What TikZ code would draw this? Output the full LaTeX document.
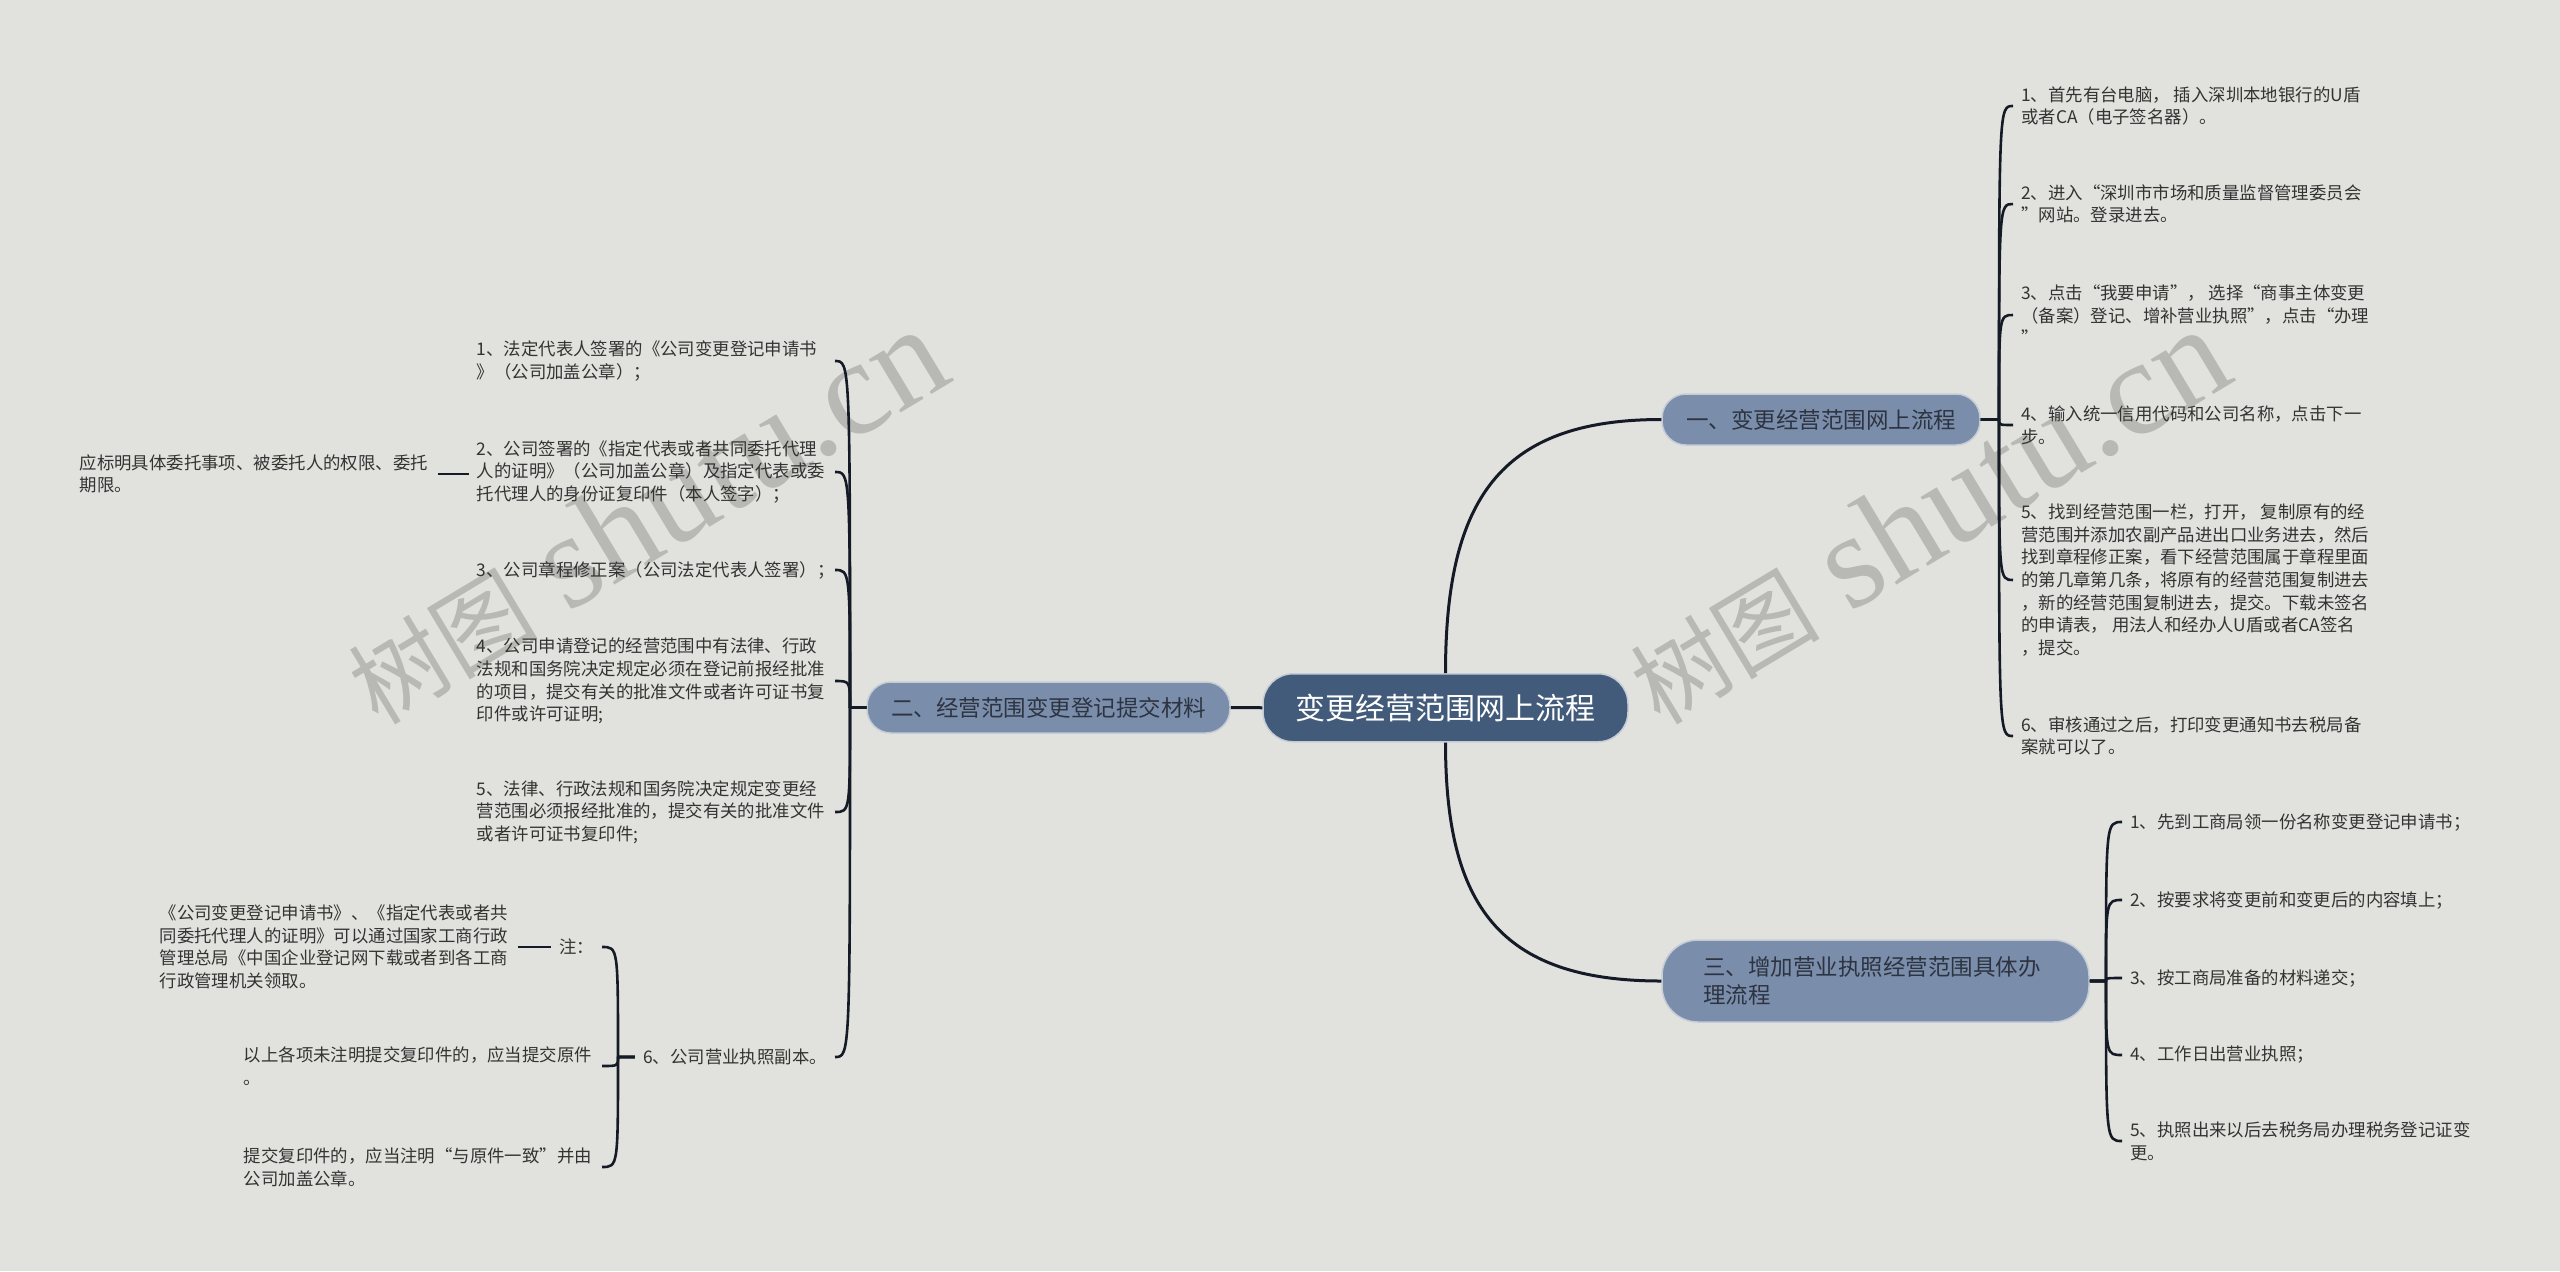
\documentclass[tikz,border=0pt]{standalone}
\usepackage{fontspec}
\setmainfont{Noto Sans CJK SC}
\newfontfamily\wmserif{Liberation Serif}
\definecolor{bgc}{HTML}{E1E2DE}
\definecolor{rootc}{HTML}{435B7A}
\definecolor{branchc}{HTML}{7A8EAC}
\definecolor{rimc}{HTML}{C5CCD6}
\definecolor{linec}{HTML}{151B26}
\definecolor{leafc}{HTML}{333333}
\definecolor{btextc}{HTML}{2D3340}
\definecolor{wmc}{HTML}{B8B9B4}
\newcommand{\mmbrace}[3]{\draw[brline] (#1) -- ([xshift=#3]#2 |- #1) .. controls ([xshift=#3]#2) .. (#2);}
\begin{document}
\begin{tikzpicture}[x=1bp,y=-1bp,
  mainline/.style={draw=linec, line width=3bp},
  brline/.style={draw=linec, line width=2.6bp, line join=round},
  leaf/.style={inner xsep=8bp, inner ysep=2bp, align=left, text=leafc, font=\fontsize{17.4bp}{22.6bp}\selectfont},
  lleaf/.style={leaf, text width=350bp, anchor=east},
  nleaf/.style={leaf, anchor=east},
  rleaf/.style={leaf, anchor=west},
  branchbox/.style={fill=branchc, draw=rimc, line width=1.5bp, rounded corners=24bp, minimum height=51bp, inner sep=0pt, text=btextc, font=\fontsize{22.5bp}{27.5bp}\selectfont},
  rootbox/.style={fill=rootc, draw=rimc, line width=1.5bp, rounded corners=30bp, minimum width=365bp, minimum height=68bp, inner sep=0pt, text=white, font=\fontsize{30bp}{36bp}\selectfont},
  wmark/.style={text=wmc, inner sep=0pt, rotate=31}
]
\useasboundingbox (0,0) rectangle (2560,1271);
\fill[bgc] (0,0) rectangle (2560,1271);

% watermarks
\node[wmark] (wm1) at (645,516) {{\fontsize{95bp}{95bp}\selectfont 树图}\hspace{30bp}{\wmserif\fontsize{135bp}{135bp}\selectfont shutu.cn}};
\node[wmark] (wm2) at (1927,516) {{\fontsize{95bp}{95bp}\selectfont 树图}\hspace{30bp}{\wmserif\fontsize{135bp}{135bp}\selectfont shutu.cn}};

% main nodes
\node[rootbox] (root) at (1445.5,707.75) {变更经营范围网上流程};
\node[branchbox, minimum width=318bp] (b1) at (1821,419.5) {一、变更经营范围网上流程};
\node[branchbox, minimum width=363bp] (b2) at (1048.5,707.5) {二、经营范围变更登记提交材料};
\node[branchbox, minimum width=427bp, minimum height=82bp, rounded corners=36bp, text width=345bp, align=left] (b3) at (1875.5,981) {三、增加营业执照经营范围具体办\\理流程};

% group one
\node[rleaf] (c1) at (2013,106) {1、首先有台电脑， 插入深圳本地银行的U盾\\或者CA（电子签名器）。};
\node[rleaf] (c2) at (2013,204) {2、进入“深圳市市场和质量监督管理委员会\\”网站。登录进去。};
\node[rleaf] (c3) at (2013,315) {3、点击“我要申请”， 选择“商事主体变更\\（备案）登记、增补营业执照”，点击“办理\\”};
\node[rleaf] (c4) at (2013,425) {4、输入统一信用代码和公司名称，点击下一\\步。};
\node[rleaf] (c5) at (2013,580) {5、找到经营范围一栏，打开， 复制原有的经\\营范围并添加农副产品进出口业务进去，然后\\找到章程修正案，看下经营范围属于章程里面\\的第几章第几条，将原有的经营范围复制进去\\，新的经营范围复制进去，提交。下载未签名\\的申请表， 用法人和经办人U盾或者CA签名\\，提交。};
\node[rleaf] (c6) at (2013,736) {6、审核通过之后，打印变更通知书去税局备\\案就可以了。};

% group three
\node[rleaf] (d1) at (2122,822) {1、先到工商局领一份名称变更登记申请书；};
\node[rleaf] (d2) at (2122,900) {2、按要求将变更前和变更后的内容填上；};
\node[rleaf] (d3) at (2122,978) {3、按工商局准备的材料递交；};
\node[rleaf] (d4) at (2122,1055) {4、工作日出营业执照；};
\node[rleaf] (d5) at (2122,1141) {5、执照出来以后去税务局办理税务登记证变\\更。};

% group two
\node[lleaf] (e1) at (835,361) {1、法定代表人签署的《公司变更登记申请书\\》（公司加盖公章）；};
\node[lleaf] (e2) at (835,472) {2、公司签署的《指定代表或者共同委托代理\\人的证明》（公司加盖公章）及指定代表或委\\托代理人的身份证复印件（本人签字）；};
\node[lleaf] (e3) at (835,570) {3、公司章程修正案（公司法定代表人签署）；};
\node[lleaf] (e4) at (835,681) {4、公司申请登记的经营范围中有法律、行政\\法规和国务院决定规定必须在登记前报经批准\\的项目，提交有关的批准文件或者许可证书复\\印件或许可证明;};
\node[lleaf] (e5) at (835,812) {5、法律、行政法规和国务院决定规定变更经\\营范围必须报经批准的，提交有关的批准文件\\或者许可证书复印件;};
\node[nleaf] (e6) at (835,1057) {6、公司营业执照副本。};
\node[lleaf] (f1) at (438,474) {应标明具体委托事项、被委托人的权限、委托\\期限。};
\node[nleaf] (g1) at (602,947) {注：};
\node[lleaf] (h1) at (518,947) {《公司变更登记申请书》、《指定代表或者共\\同委托代理人的证明》可以通过国家工商行政\\管理总局《中国企业登记网下载或者到各工商\\行政管理机关领取。};
\node[lleaf] (g2) at (602,1066) {以上各项未注明提交复印件的，应当提交原件\\。};
\node[lleaf] (g3) at (602,1167) {提交复印件的，应当注明“与原件一致”并由\\公司加盖公章。};

% main connectors
\draw[mainline] (root.north) .. controls ([yshift=173bp]root.north) and ([xshift=-162bp]b1.west) .. (b1.west);
\draw[mainline] (root.south) .. controls ([yshift=-163bp]root.south) and ([xshift=-162bp]b3.west) .. (b3.west);
\draw[mainline] (root.west) -- (b2.east);

% brackets
\mmbrace{b1.east}{c1.west}{-14bp}
\mmbrace{b1.east}{c2.west}{-14bp}
\mmbrace{b1.east}{c3.west}{-14bp}
\mmbrace{b1.east}{c4.west}{-14bp}
\mmbrace{b1.east}{c5.west}{-14bp}
\mmbrace{b1.east}{c6.west}{-14bp}

\mmbrace{b3.east}{d1.west}{-16bp}
\mmbrace{b3.east}{d2.west}{-16bp}
\mmbrace{b3.east}{d3.west}{-16bp}
\mmbrace{b3.east}{d4.west}{-16bp}
\mmbrace{b3.east}{d5.west}{-16bp}

\mmbrace{b2.west}{e1.east}{15bp}
\mmbrace{b2.west}{e2.east}{15bp}
\mmbrace{b2.west}{e3.east}{15bp}
\mmbrace{b2.west}{e4.east}{15bp}
\mmbrace{b2.west}{e5.east}{15bp}
\mmbrace{b2.west}{e6.east}{15bp}

\mmbrace{e6.west}{g1.east}{16bp}
\mmbrace{e6.west}{g2.east}{16bp}
\mmbrace{e6.west}{g3.east}{16bp}

\draw[brline] (f1.east) -- (f1.east -| e2.west);
\draw[brline] (h1.east) -- (h1.east -| g1.west);
\end{tikzpicture}
\end{document}
